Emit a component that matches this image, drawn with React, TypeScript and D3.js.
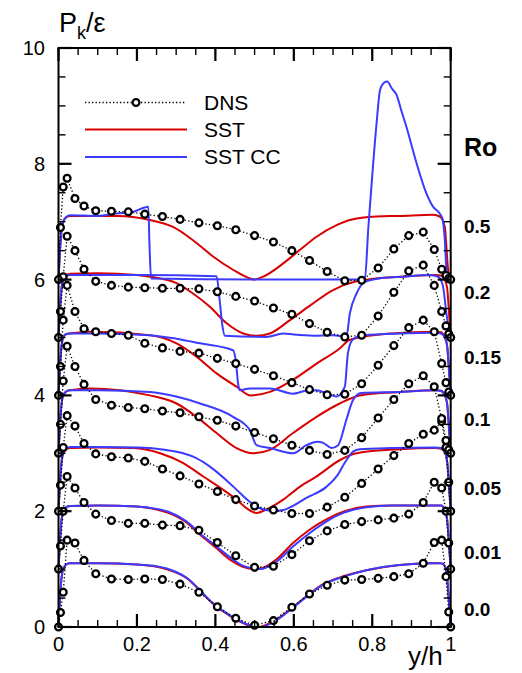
import React from "react";
import * as d3 from "d3";

// ---------- data ----------
const roLabels = ["0.0", "0.01", "0.05", "0.1", "0.15", "0.2", "0.5"];
const roOffsets = [0, 1, 2, 3, 4, 5, 6];
const roLabelValues = [0.31, 1.28, 2.4, 3.58, 4.65, 5.77, 6.91];

const xTickLabels = ["0", "0.2", "0.4", "0.6", "0.8", "1"];
const yTickLabels = ["0", "2", "4", "6", "8", "10"];

// DNS wall-normal positions of the markers (y/h)
const dnsPos = [0, 0.005, 0.012, 0.022, 0.042, 0.065, 0.095, 0.135, 0.178, 0.22, 0.265, 0.31, 0.358, 0.405, 0.452, 0.5,
  0.548, 0.595, 0.64, 0.685, 0.73, 0.773, 0.815, 0.855, 0.893, 0.93, 0.958, 0.977, 0.988, 0.995, 1.0];
// DNS Pk/eps (without the plotting offset)
const dnsRo000 = [0, 0.25, 0.6, 1.5, 1.45, 1.15, 0.92, 0.83, 0.82, 0.83, 0.82, 0.74, 0.6, 0.35, 0.15, 0.03, 0.11, 0.34, 0.57, 0.72, 0.81, 0.82, 0.84, 0.87, 0.92, 1.1, 1.46, 1.5, 0.87, 0.26, 0];
const dnsRo001 = [0, 0.4, 1.0, 1.6, 1.4, 1.15, 0.95, 0.84, 0.79, 0.79, 0.76, 0.75, 0.67, 0.46, 0.23, 0.03, 0.05, 0.25, 0.49, 0.66, 0.77, 0.82, 0.85, 0.88, 0.95, 1.15, 1.5, 1.4, 1.0, 0.45, 0];
const dnsRo005 = [0, 0.45, 1.1, 1.65, 1.47, 1.17, 0.99, 0.94, 0.92, 0.86, 0.73, 0.61, 0.47, 0.34, 0.2, 0.09, 0.02, -0.04, -0.04, 0.07, 0.24, 0.48, 0.73, 0.96, 1.17, 1.33, 1.4, 1.55, 1.1, 0.5, 0];
const dnsRo010 = [0, 0.5, 1.25, 1.85, 1.5, 1.19, 0.93, 0.83, 0.79, 0.77, 0.73, 0.7, 0.63, 0.57, 0.47, 0.36, 0.25, 0.14, 0.05, -0.02, 0.05, 0.27, 0.61, 0.93, 1.2, 1.34, 1.15, 0.6, 0.22, 0.06, 0];
const dnsRo015 = [0, 0.5, 1.3, 1.9, 1.45, 1.15, 1.1, 1.07, 1.04, 0.9, 0.82, 0.76, 0.73, 0.64, 0.55, 0.45, 0.34, 0.22, 0.1, 0.01, 0.02, 0.2, 0.52, 0.86, 1.17, 1.3, 1.1, 0.55, 0.22, 0.06, 0];
const dnsRo020 = [0, 0.45, 1.05, 1.75, 1.5, 1.18, 0.97, 0.9, 0.87, 0.86, 0.85, 0.85, 0.84, 0.79, 0.71, 0.63, 0.51, 0.4, 0.24, 0.09, 0.01, 0.04, 0.37, 0.78, 1.15, 1.25, 0.9, 0.45, 0.2, 0.06, 0];
const dnsRo050 = [0, 0.9, 1.6, 1.75, 1.4, 1.27, 1.19, 1.18, 1.17, 1.13, 1.09, 1.04, 0.98, 0.93, 0.86, 0.76, 0.65, 0.5, 0.33, 0.14, -0.02, -0.01, 0.2, 0.53, 0.76, 0.82, 0.52, 0.18, 0.07, 0.02, 0];

// SST model: [y/h, Pk/eps]
const sstRo000 = [[0, 0], [0.003, 0.4], [0.007, 0.8], [0.012, 1.0], [0.02, 1.08], [0.03, 1.1], [0.1, 1.1], [0.2, 1.08], [0.25, 1.04], [0.3, 0.94], [0.33, 0.83], [0.36, 0.63], [0.394, 0.4], [0.437, 0.19], [0.48, 0.04], [0.51, 0.0], [0.556, 0.13], [0.59, 0.3], [0.632, 0.53], [0.675, 0.74], [0.728, 0.88], [0.785, 0.98], [0.87, 1.07], [0.95, 1.1], [0.975, 1.1], [0.985, 1.05], [0.991, 0.85], [0.995, 0.5], [0.998, 0.2], [1, 0]];
const sstRo001 = [[0, 0], [0.003, 0.4], [0.007, 0.8], [0.012, 1.0], [0.02, 1.07], [0.03, 1.09], [0.1, 1.1], [0.2, 1.08], [0.25, 1.03], [0.28, 0.97], [0.327, 0.8], [0.36, 0.6], [0.403, 0.36], [0.44, 0.15], [0.47, 0.04], [0.5, 0.0], [0.52, 0.02], [0.556, 0.17], [0.598, 0.45], [0.64, 0.68], [0.683, 0.86], [0.726, 0.99], [0.785, 1.08], [0.85, 1.1], [0.95, 1.1], [0.975, 1.1], [0.985, 1.02], [0.991, 0.85], [0.995, 0.5], [0.998, 0.2], [1, 0]];
const sstRo005 = [[0, 0], [0.003, 0.4], [0.007, 0.8], [0.012, 1.0], [0.02, 1.07], [0.03, 1.09], [0.1, 1.1], [0.191, 1.09], [0.259, 1.0], [0.318, 0.83], [0.369, 0.6], [0.42, 0.37], [0.454, 0.2], [0.48, 0.05], [0.505, -0.03], [0.53, 0.03], [0.573, 0.2], [0.615, 0.42], [0.658, 0.6], [0.717, 0.88], [0.76, 1.0], [0.87, 1.07], [0.96, 1.09], [0.975, 1.08], [0.985, 1.02], [0.991, 0.85], [0.995, 0.5], [0.998, 0.2], [1, 0]];
const sstRo010 = [[0, 0], [0.003, 0.4], [0.007, 0.8], [0.012, 1.0], [0.02, 1.07], [0.03, 1.09], [0.08, 1.12], [0.233, 1.0], [0.301, 0.86], [0.352, 0.63], [0.403, 0.35], [0.454, 0.09], [0.496, 0.0], [0.539, 0.06], [0.598, 0.35], [0.658, 0.63], [0.717, 0.86], [0.768, 1.0], [0.87, 1.06], [0.96, 1.09], [0.975, 1.08], [0.985, 1.0], [0.991, 0.85], [0.995, 0.5], [0.998, 0.2], [1, 0]];
const sstRo015 = [[0, 0], [0.003, 0.4], [0.007, 0.8], [0.012, 1.0], [0.02, 1.06], [0.03, 1.07], [0.08, 1.1], [0.233, 1.04], [0.301, 0.9], [0.352, 0.67], [0.403, 0.38], [0.454, 0.15], [0.49, 0.0], [0.539, 0.06], [0.598, 0.27], [0.658, 0.55], [0.717, 0.81], [0.743, 0.96], [0.85, 1.07], [0.959, 1.1], [0.975, 1.09], [0.985, 1.0], [0.991, 0.85], [0.995, 0.5], [0.998, 0.2], [1, 0]];
const sstRo020 = [[0, 0], [0.003, 0.4], [0.007, 0.8], [0.012, 1.0], [0.02, 1.08], [0.03, 1.1], [0.1, 1.11], [0.2, 1.08], [0.233, 1.05], [0.301, 0.94], [0.343, 0.76], [0.386, 0.53], [0.428, 0.25], [0.471, 0.07], [0.505, 0.03], [0.539, 0.07], [0.59, 0.3], [0.641, 0.55], [0.7, 0.82], [0.76, 0.97], [0.87, 1.05], [0.96, 1.08], [0.975, 1.07], [0.985, 1.0], [0.991, 0.85], [0.995, 0.5], [0.998, 0.2], [1, 0]];
const sstRo050 = [[0, 0], [0.003, 0.4], [0.007, 0.8], [0.012, 1.0], [0.02, 1.08], [0.03, 1.1], [0.15, 1.1], [0.233, 1.03], [0.292, 0.91], [0.343, 0.68], [0.394, 0.4], [0.445, 0.17], [0.488, 0.02], [0.5, 0.0], [0.522, 0.05], [0.573, 0.28], [0.615, 0.51], [0.658, 0.74], [0.709, 0.94], [0.743, 1.03], [0.811, 1.09], [0.87, 1.1], [0.955, 1.12], [0.972, 1.09], [0.985, 0.91], [0.989, 0.57], [0.993, 0.2], [1, 0]];

// SST CC model: [y/h, Pk/eps]
const sstccRo000 = [[0, 0], [0.003, 0.4], [0.007, 0.8], [0.012, 1.0], [0.02, 1.08], [0.03, 1.1], [0.1, 1.1], [0.2, 1.08], [0.25, 1.05], [0.276, 1.01], [0.3, 0.95], [0.327, 0.85], [0.36, 0.64], [0.394, 0.41], [0.437, 0.2], [0.48, 0.05], [0.515, 0.0], [0.556, 0.12], [0.59, 0.29], [0.632, 0.52], [0.675, 0.73], [0.728, 0.87], [0.785, 0.98], [0.87, 1.07], [0.95, 1.1], [0.975, 1.1], [0.985, 1.05], [0.991, 0.85], [0.995, 0.5], [0.998, 0.2], [1, 0]];
const sstccRo001 = [[0, 0], [0.003, 0.4], [0.007, 0.8], [0.012, 1.0], [0.02, 1.07], [0.03, 1.09], [0.1, 1.1], [0.2, 1.08], [0.25, 1.04], [0.28, 0.99], [0.327, 0.82], [0.36, 0.62], [0.403, 0.39], [0.44, 0.19], [0.47, 0.06], [0.49, 0.02], [0.514, 0.0], [0.556, 0.13], [0.598, 0.39], [0.64, 0.62], [0.683, 0.82], [0.726, 0.97], [0.785, 1.07], [0.85, 1.1], [0.95, 1.1], [0.975, 1.1], [0.985, 1.02], [0.991, 0.85], [0.995, 0.5], [0.998, 0.2], [1, 0]];
const sstccRo005 = [[0, 0], [0.003, 0.4], [0.007, 0.8], [0.012, 1.0], [0.02, 1.08], [0.03, 1.11], [0.1, 1.11], [0.2, 1.1], [0.233, 1.09], [0.27, 1.06], [0.318, 1.0], [0.35, 0.92], [0.386, 0.77], [0.437, 0.48], [0.465, 0.3], [0.488, 0.16], [0.51, 0.06], [0.53, 0.02], [0.545, 0.0], [0.573, 0.02], [0.6, 0.1], [0.632, 0.23], [0.683, 0.42], [0.709, 0.6], [0.734, 0.88], [0.751, 1.03], [0.768, 1.07], [0.85, 1.09], [0.96, 1.1], [0.975, 1.09], [0.985, 1.02], [0.991, 0.85], [0.995, 0.5], [0.998, 0.2], [1, 0]];
const sstccRo010 = [[0, 0], [0.003, 0.4], [0.007, 0.8], [0.012, 1.0], [0.02, 1.07], [0.03, 1.09], [0.1, 1.09], [0.233, 1.06], [0.3, 0.98], [0.361, 0.86], [0.445, 0.63], [0.488, 0.4], [0.505, 0.14], [0.539, 0.09], [0.598, 0.0], [0.632, 0.14], [0.66, 0.2], [0.675, 0.18], [0.696, 0.09], [0.713, 0.14], [0.734, 0.58], [0.751, 0.92], [0.772, 1.04], [0.87, 1.06], [0.96, 1.09], [0.975, 1.08], [0.985, 1.0], [0.991, 0.85], [0.995, 0.5], [0.998, 0.2], [1, 0]];
const sstccRo015 = [[0, 0], [0.003, 0.4], [0.007, 0.8], [0.012, 1.0], [0.02, 1.06], [0.03, 1.07], [0.1, 1.07], [0.233, 1.04], [0.3, 0.98], [0.361, 0.9], [0.445, 0.78], [0.452, 0.6], [0.458, 0.2], [0.462, 0.09], [0.488, 0.12], [0.539, 0.12], [0.598, 0.03], [0.63, 0.08], [0.658, 0.09], [0.685, 0.03], [0.709, -0.02], [0.73, 0.15], [0.738, 0.73], [0.75, 0.96], [0.777, 1.04], [0.87, 1.07], [0.963, 1.08], [0.975, 1.07], [0.985, 1.0], [0.991, 0.85], [0.995, 0.5], [0.998, 0.2], [1, 0]];
const sstccRo020 = [[0, 0], [0.003, 0.4], [0.007, 0.8], [0.012, 1.0], [0.02, 1.06], [0.03, 1.08], [0.2, 1.08], [0.403, 1.06], [0.41, 0.7], [0.418, 0.2], [0.424, 0.03], [0.53, 0.01], [0.573, 0.07], [0.6, 0.05], [0.65, 0.03], [0.7, 0.04], [0.734, 0.01], [0.743, 0.42], [0.76, 0.76], [0.781, 0.96], [0.828, 1.03], [0.878, 1.05], [0.946, 1.08], [0.968, 1.05], [0.98, 0.9], [0.989, 0.42], [0.995, 0.15], [1, 0]];
const sstccRo050 = [[0, 0], [0.003, 0.4], [0.007, 0.8], [0.012, 1.0], [0.02, 1.08], [0.029, 1.11], [0.1, 1.1], [0.148, 1.14], [0.19, 1.17], [0.229, 1.26], [0.232, 0.6], [0.236, 0.02], [0.5, 0.0], [0.781, 0.0], [0.79, 0.9], [0.8, 1.8], [0.811, 2.7], [0.82, 3.28], [0.83, 3.4], [0.838, 3.42], [0.85, 3.3], [0.862, 3.19], [0.875, 2.9], [0.887, 2.64], [0.913, 2.01], [0.938, 1.49], [0.955, 1.26], [0.972, 1.14], [0.98, 1.03], [0.985, 0.68], [0.99, 0.11], [1, 0]];

const dnsSeries = [dnsRo000, dnsRo001, dnsRo005, dnsRo010, dnsRo015, dnsRo020, dnsRo050];
const sstSeries = [sstRo000, sstRo001, sstRo005, sstRo010, sstRo015, sstRo020, sstRo050];
const sstccSeries = [sstccRo000, sstccRo001, sstccRo005, sstccRo010, sstccRo015, sstccRo020, sstccRo050];

const legendItems = ["DNS", "SST", "SST CC"];

// ---------- styles ----------
const RED = "#d80000";
const BLUE = "#3b3bff";
const FONT = "'Liberation Sans', Arial, Helvetica, sans-serif";

export default function App() {
  const W = 522, H = 673;
  const x = d3.scaleLinear().domain([0, 1]).range([58.5, 450.7]);
  const y = d3.scaleLinear().domain([0, 10]).range([627, 48]);

  const modelLine = (off: number) =>
    d3.line<number[]>().x((d) => x(d[0])).y((d) => y(d[1] + off)).curve(d3.curveMonotoneX);
  const dnsLine = (off: number) =>
    d3.line<number>().x((_, i) => x(dnsPos[i])).y((d) => y(d + off));

  const xMajor = x.ticks(5);
  const xMinor = x.ticks(20);
  const yMajor = y.ticks(5);
  const yMinor = y.ticks(20);
  const L = x(0), R = x(1), B = y(0), T = y(10);
  const MAJ = 13, MIN = 7;

  return (
    <svg width={W} height={H} style={{ position: "absolute", left: 0, top: 0, background: "#fff" }} fontFamily={FONT}>
      <rect x={0} y={0} width={W} height={H} fill="#fff" />

      {/* model curves */}
      {sstSeries.map((s, i) => (
        <path key={"sst" + i} d={modelLine(roOffsets[i])(s) || ""} fill="none" stroke={RED} strokeWidth={2} />
      ))}
      {sstccSeries.map((s, i) => (
        <path key={"cc" + i} d={modelLine(roOffsets[i])(s) || ""} fill="none" stroke={BLUE} strokeWidth={2} />
      ))}

      {/* DNS */}
      {dnsSeries.map((s, i) => (
        <g key={"dns" + i}>
          <path d={dnsLine(roOffsets[i])(s) || ""} fill="none" stroke="#000" strokeWidth={1.3} strokeDasharray="1.3,2.2" />
          {s.map((v, j) => (
            <circle key={j} cx={x(dnsPos[j])} cy={y(v + roOffsets[i])} r={3.4} fill="#fff" stroke="#000" strokeWidth={2.3} />
          ))}
        </g>
      ))}

      {/* frame */}
      <rect x={L} y={T} width={R - L} height={B - T} fill="none" stroke="#000" strokeWidth={2} />

      {/* x ticks */}
      {xMinor.map((t, i) => (
        <g key={"xm" + i}>
          <line x1={x(t)} x2={x(t)} y1={B} y2={B - MIN} stroke="#000" strokeWidth={1.4} />
          <line x1={x(t)} x2={x(t)} y1={T} y2={T + MIN} stroke="#000" strokeWidth={1.4} />
        </g>
      ))}
      {xMajor.map((t, i) => (
        <g key={"xM" + i}>
          <line x1={x(t)} x2={x(t)} y1={B} y2={B - MAJ} stroke="#000" strokeWidth={2.2} />
          <line x1={x(t)} x2={x(t)} y1={T} y2={T + MAJ} stroke="#000" strokeWidth={2.2} />
        </g>
      ))}
      {/* y ticks */}
      {yMinor.map((t, i) => (
        <g key={"ym" + i}>
          <line x1={L} x2={L + MIN} y1={y(t)} y2={y(t)} stroke="#000" strokeWidth={1.4} />
          <line x1={R} x2={R - MIN} y1={y(t)} y2={y(t)} stroke="#000" strokeWidth={1.4} />
        </g>
      ))}
      {yMajor.map((t, i) => (
        <g key={"yM" + i}>
          <line x1={L} x2={L + MAJ} y1={y(t)} y2={y(t)} stroke="#000" strokeWidth={2.2} />
          <line x1={R} x2={R - MAJ} y1={y(t)} y2={y(t)} stroke="#000" strokeWidth={2.2} />
        </g>
      ))}

      {/* tick labels */}
      {xMajor.map((t, i) => (
        <text key={"xl" + i} x={x(t)} y={651} fontSize={20} textAnchor="middle" fill="#000">
          {xTickLabels[i]}
        </text>
      ))}
      {yMajor.map((t, i) => (
        <text key={"yl" + i} x={45} y={y(t) + 7} fontSize={20} textAnchor="end" fill="#000">
          {yTickLabels[i]}
        </text>
      ))}

      {/* axis titles */}
      <text x={59} y={31.5} fontSize={27} fill="#000">
        P<tspan fontSize={18} dy={7}>k</tspan>
        <tspan fontSize={27} dy={-7}>/ε</tspan>
      </text>
      <text x={408} y={665} fontSize={26} fill="#000">y/h</text>

      {/* Ro labels */}
      <text x={464} y={y(8.29)} fontSize={25} fontWeight="bold" dominantBaseline="central" fill="#000">Ro</text>
      {roLabels.map((lab, i) => (
        <text key={"ro" + i} x={464} y={y(roLabelValues[i])} fontSize={19} fontWeight="bold" dominantBaseline="central" fill="#000">
          {lab}
        </text>
      ))}

      {/* legend */}
      <g>
        <line x1={85} x2={185} y1={102.5} y2={102.5} stroke="#000" strokeWidth={1.3} strokeDasharray="1.3,2.2" />
        <circle cx={136} cy={102.5} r={3.4} fill="#fff" stroke="#000" strokeWidth={2.3} />
        <line x1={85} x2={187} y1={129.5} y2={129.5} stroke={RED} strokeWidth={2} />
        <line x1={85} x2={187} y1={157} y2={157} stroke={BLUE} strokeWidth={2} />
        {legendItems.map((t, i) => (
          <text key={"lg" + i} x={204} y={102.5 + i * 27.2} fontSize={21} dominantBaseline="central" fill="#000">
            {t}
          </text>
        ))}
      </g>
    </svg>
  );
}
